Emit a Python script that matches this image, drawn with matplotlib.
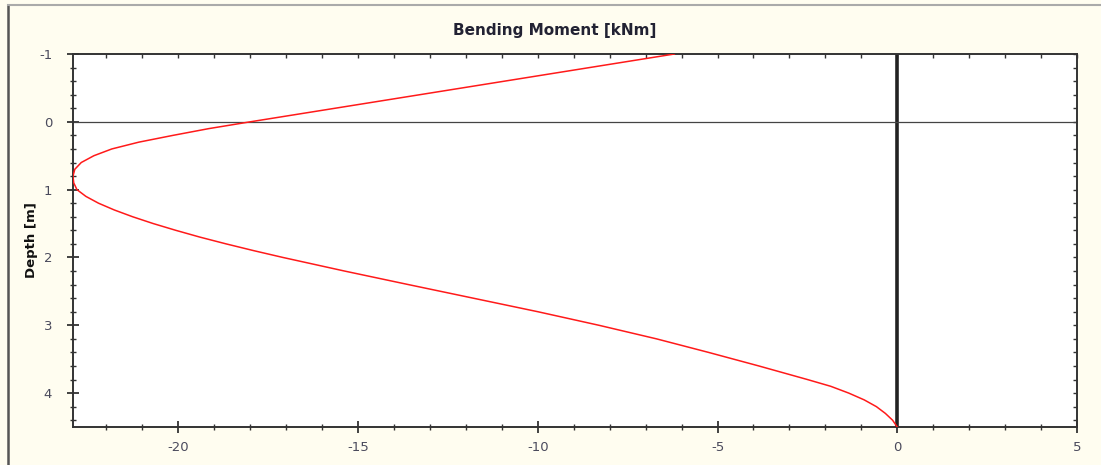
import matplotlib.pyplot as plt
from matplotlib.lines import Line2D
from matplotlib.ticker import MultipleLocator

plt.rcParams['axes.unicode_minus'] = False

# depth [m] and bending moment [kNm]
depth = [-1.0, -0.75, -0.5, -0.25, 0.0, 0.1, 0.2, 0.3, 0.4, 0.5, 0.6, 0.7,
         0.8, 0.9, 1.0, 1.1, 1.2, 1.3, 1.4, 1.5, 1.6, 1.7, 1.8, 1.9, 2.0,
         2.2, 2.4, 2.6, 2.8, 3.0, 3.2, 3.4, 3.6, 3.8, 3.9, 4.0, 4.1, 4.2,
         4.3, 4.4, 4.5]
moment = [-6.2, -9.15, -12.1, -15.05, -18.0, -19.15, -20.15, -21.1, -21.85,
          -22.35, -22.7, -22.88, -22.93, -22.91, -22.82, -22.57, -22.22, -21.78,
          -21.27, -20.7, -20.07, -19.4, -18.67, -17.9, -17.09, -15.38, -13.6,
          -11.8, -10.0, -8.3, -6.7, -5.25, -3.85, -2.5, -1.85, -1.35, -0.92,
          -0.58, -0.33, -0.13, 0.0]

x_major = [-20, -15, -10, -5, 0, 5]
y_major = [-1, 0, 1, 2, 3, 4]

bg = '#fffdf0'
label_col = '#4a4a5c'

fig = plt.figure(figsize=(11.01, 4.65), dpi=100, facecolor=bg)
ax = fig.add_axes([73 / 1101, 1 - 427 / 465, (1077 - 73) / 1101, (427 - 54) / 465])
ax.set_facecolor('white')

ax.plot(moment, depth, color='#ff1a1a', lw=1.1, zorder=3)
ax.axvline(0, color='#222222', lw=2.6, zorder=2)
ax.axhline(0, color='#444444', lw=0.9, zorder=2)

ax.set_xlim(-22.93, 5)
ax.set_ylim(4.5, -1)
ax.set_xticks(x_major)
ax.set_yticks(y_major)
ax.xaxis.set_minor_locator(MultipleLocator(1))
ax.yaxis.set_minor_locator(MultipleLocator(0.2))

for s in ax.spines.values():
    s.set_color('#333333')
    s.set_linewidth(1.4)

# left/bottom ticks cross the spine, top/right ones point in
ax.tick_params(axis='both', which='major', direction='inout', length=8, width=1.3,
               color='#333333', labelsize=9.5, labelcolor=label_col)
ax.tick_params(axis='both', which='minor', direction='inout', length=5, width=1.0,
               color='#333333')
ax.tick_params(axis='x', which='both', pad=6)
ax.tick_params(axis='y', which='both', pad=11)

top = ax.secondary_xaxis('top')
top.set_xticks(x_major)
top.xaxis.set_minor_locator(MultipleLocator(1))
top.tick_params(which='both', direction='in', length=3, width=1.0, color='#333333',
                labeltop=False)
top.spines['top'].set_visible(False)

right = ax.secondary_yaxis('right')
right.set_yticks(y_major)
right.yaxis.set_minor_locator(MultipleLocator(0.2))
right.tick_params(which='both', direction='in', length=3, width=1.0, color='#333333',
                  labelright=False)
right.spines['right'].set_visible(False)

fig.text(555 / 1101, 1 - 31 / 465, 'Bending Moment [kNm]', ha='center', va='center',
         fontsize=11, fontweight='bold', color='#222233')
fig.text(31 / 1101, 1 - 240 / 465, 'Depth [m]', ha='center', va='center',
         rotation=90, fontsize=9.5, fontweight='bold', color='#111111')

# outer frame lines
fig.add_artist(Line2D([8 / 1101, 8 / 1101], [0, 1 - 5 / 465], transform=fig.transFigure,
                      color='#555555', lw=1.8))
fig.add_artist(Line2D([8 / 1101, 1], [1 - 5 / 465, 1 - 5 / 465], transform=fig.transFigure,
                      color='#aaaaaa', lw=1.5))

fig.savefig('out.png', dpi=100, facecolor=bg)
